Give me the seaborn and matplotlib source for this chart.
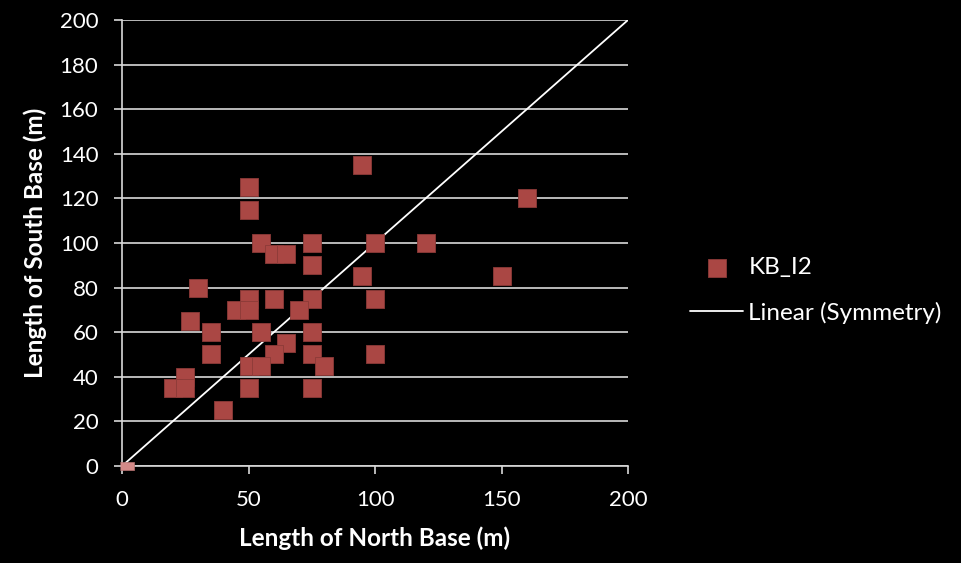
import matplotlib
matplotlib.use("Agg")
import matplotlib.pyplot as plt
import seaborn as sns
import pandas as pd

north = [50, 50, 55, 60, 65, 75, 75, 30, 50, 60, 75, 45, 50, 70, 27, 35, 55, 75,
         35, 65, 60, 75, 80, 50, 55, 25, 20, 25, 50, 75, 40, 95, 160, 100, 120,
         95, 150, 100, 100]
south = [125, 115, 100, 95, 95, 100, 90, 80, 75, 75, 75, 70, 70, 70, 65, 60, 60, 60,
         50, 55, 50, 50, 45, 45, 45, 40, 35, 35, 35, 35, 25, 135, 120, 100, 100,
         85, 85, 75, 50]
origin_x = [2]
origin_y = [0]
sym_x = [0, 200]
sym_y = [0, 200]
x_ticks = [0, 50, 100, 150, 200]
y_ticks = [0, 20, 40, 60, 80, 100, 120, 140, 160, 180, 200]

sns.set_theme(style="dark")
plt.rcParams['font.family'] = ['Lato', 'DejaVu Sans']

fig = plt.figure(figsize=(9.61, 5.63), dpi=100, facecolor='black')
ax = fig.add_axes([0.127, 0.1723, 0.5265, 0.7922])
ax.set_facecolor('black')

df = pd.DataFrame({'north': north, 'south': south})
sym = pd.DataFrame({'x': sym_x, 'y': sym_y})
org = pd.DataFrame({'x': origin_x, 'y': origin_y})

ax.set_xlim(0, 200)
ax.set_ylim(0, 200)
ax.set_yticks(y_ticks)
ax.set_xticks(x_ticks)
ax.yaxis.grid(True, color='#D9D9D9', linewidth=1.2)
ax.xaxis.grid(False)
ax.set_axisbelow(True)

sns.lineplot(data=sym, x='x', y='y', ax=ax, color='white', linewidth=1.3,
             label='Linear (Symmetry)', zorder=2)
sns.scatterplot(data=df, x='north', y='south', ax=ax, marker='s', s=150,
                color='#AA4744', edgecolor='#8C3A38', linewidth=0.6,
                label='KB_I2', zorder=3)
rect = [(-1, -0.55), (1, -0.55), (1, 0.55), (-1, 0.55)]
sns.scatterplot(data=org, x='x', y='y', ax=ax, marker=rect, s=110,
                color='#D48A88', edgecolor='#B87472', linewidth=0.5,
                zorder=4, clip_on=False, legend=False)

for s in ['top', 'right']:
    ax.spines[s].set_visible(False)
for s in ['left', 'bottom']:
    ax.spines[s].set_color('#D9D9D9')
    ax.spines[s].set_linewidth(1.2)

ax.tick_params(axis='both', colors='#D9D9D9', labelcolor='white',
               labelsize=16, direction='out', length=6, width=1.2,
               bottom=True, left=True)
ax.tick_params(axis='y', pad=11)
ax.tick_params(axis='x', pad=11)

ax.set_xlabel('Length of North Base (m)', color='white', fontsize=17.5,
              fontweight='bold', labelpad=12)
ax.set_ylabel('Length of South Base (m)', color='white', fontsize=17.5,
              fontweight='bold', labelpad=9)

handles, labels = ax.get_legend_handles_labels()
order = [labels.index('KB_I2'), labels.index('Linear (Symmetry)')]
leg = ax.legend([handles[i] for i in order], [labels[i] for i in order],
                loc='center left', bbox_to_anchor=(0.718, 0.484),
                bbox_transform=fig.transFigure, frameon=False,
                fontsize=17.5, labelcolor='white', handlelength=2.2,
                handletextpad=0.2, labelspacing=0.95, borderpad=0,
                borderaxespad=0)

fig.savefig('out.png', dpi=100, facecolor='black')
